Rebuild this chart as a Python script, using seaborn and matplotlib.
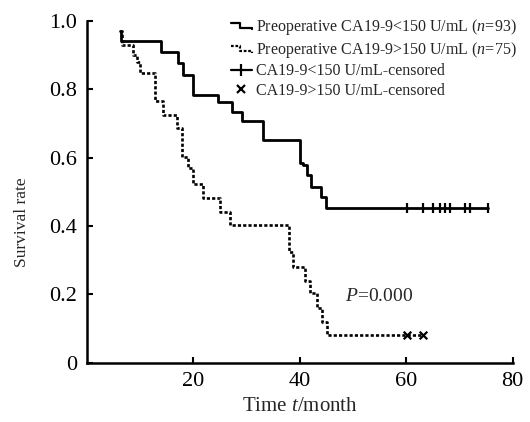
import matplotlib
matplotlib.use("Agg")
import matplotlib.pyplot as plt
import seaborn as sns
import pandas as pd
import numpy as np
from matplotlib.lines import Line2D
from matplotlib.legend_handler import HandlerBase
from matplotlib.ticker import FixedLocator, FuncFormatter

# ---- data ----
low_times = [6.2, 6.5, 13.9, 17.2, 18.0, 19.9, 24.7, 27.2, 29.1, 33.1, 40.0, 40.6, 41.4, 42.2, 44.0, 45.0]
low_surv = [0.970, 0.941, 0.910, 0.876, 0.843, 0.783, 0.764, 0.734, 0.707, 0.651, 0.585, 0.578, 0.549, 0.515, 0.485, 0.452]
low_end = 75.4
low_censor_times = [60.1, 63.2, 65.1, 66.3, 67.3, 68.2, 71.0, 72.0, 75.4]

high_times = [6.2, 6.7, 8.7, 9.4, 10.0, 12.8, 14.4, 16.9, 17.8, 19.1, 20.0, 21.9, 25.0, 26.9, 38.0, 38.8, 41.0, 41.9, 43.2, 44.1, 45.1]
high_surv = [0.970, 0.928, 0.900, 0.881, 0.847, 0.765, 0.725, 0.686, 0.603, 0.569, 0.522, 0.483, 0.442, 0.402, 0.323, 0.281, 0.240, 0.203, 0.160, 0.120, 0.080]
high_end = 63.1
high_censor_times = [60.1, 63.1]

x_ticks = [20, 40, 60, 80]
y_ticks = [0, 0.2, 0.4, 0.6, 0.8, 1.0]
labels = ["Preoperative CA19-9<150 U/mL ($\\it{n}$=93)",
          "Preoperative CA19-9>150 U/mL ($\\it{n}$=75)",
          "CA19-9<150 U/mL-censored",
          "CA19-9>150 U/mL-censored"]
p_text = "$\\it{P}$=0.000"

sns.set_style("ticks")
plt.rcParams["font.family"] = ["Liberation Serif", "DejaVu Serif"]
plt.rcParams["mathtext.fontset"] = "custom"
plt.rcParams["mathtext.rm"] = "Liberation Serif"
plt.rcParams["mathtext.it"] = "Liberation Serif:italic"

def step_frame(times, surv, end):
    t = list(times) + [end]
    s = list(surv) + [surv[-1]]
    return pd.DataFrame({"t": t, "s": s})

def censor_frame(times, surv_list, times_list):
    vals = []
    for c in times:
        idx = max(i for i, tt in enumerate(times_list) if tt <= c)
        vals.append(surv_list[idx])
    return pd.DataFrame({"t": times, "s": vals})

fig = plt.figure(figsize=(5.3, 4.22), dpi=100)
ax = fig.add_axes([0.1638, 0.1408, 0.8035, 0.8097])

low_df = step_frame(low_times, low_surv, low_end)
high_df = step_frame(high_times, high_surv, high_end)

sns.lineplot(data=low_df, x="t", y="s", ax=ax, sort=False, estimator=None,
             drawstyle="steps-post", color="black", lw=2.0)
sns.lineplot(data=high_df, x="t", y="s", ax=ax, sort=False, estimator=None,
             drawstyle="steps-post", color="black", lw=1.9, linestyle=(0, (1.2, 0.8)))

lc = censor_frame(low_censor_times, low_surv, low_times)
hc = censor_frame(high_censor_times, high_surv, high_times)
sns.scatterplot(data=lc, x="t", y="s", ax=ax, marker="|", s=60, color="black", linewidth=1.6)
sns.scatterplot(data=hc, x="t", y="s", ax=ax, marker="x", s=30, color="black", linewidth=1.6)

ax.set_xlim(0, 80)
ax.set_ylim(0, 1.0)
ax.xaxis.set_major_locator(FixedLocator(x_ticks))
ax.yaxis.set_major_locator(FixedLocator(y_ticks))
ax.yaxis.set_major_formatter(FuncFormatter(lambda v, p: "0" if v == 0 else f"{v:.1f}"))
ax.tick_params(direction="in", length=4, width=1.5, labelsize=16, pad=7, colors="black")
for side in ["top", "right"]:
    ax.spines[side].set_visible(False)
for side in ["left", "bottom"]:
    ax.spines[side].set_linewidth(1.8)
    ax.spines[side].set_color("black")

ax.set_xlabel("Time $\\it{t}$/month", fontsize=15, labelpad=4)
ax.set_ylabel("Survival rate", fontsize=12.5)
ax.yaxis.set_label_coords(-0.133, 0.41)

ax.text(48.5, 0.193, p_text, fontsize=14, va="center", ha="left")

class StepHandler(HandlerBase):
    def __init__(self, ls):
        super().__init__()
        self.ls = ls
    def create_artists(self, legend, orig_handle, xdescent, ydescent, width, height, fontsize, trans):
        x0, x1 = -xdescent, -xdescent + width
        xm = x0 + width * 0.45
        yt, yb = -ydescent + height * 0.75, -ydescent + height * 0.3
        l = Line2D([x0, xm, xm, x1, x1], [yt, yt, yb, yb, yb - height * 0.15],
                   color="black", lw=1.6, linestyle=self.ls)
        l.set_transform(trans)
        return [l]

h1 = Line2D([], [], color="black")
h2 = Line2D([], [], color="black")
h3 = Line2D([], [], color="black", lw=1.6, marker="|", markersize=8, markeredgewidth=1.6)
h4 = Line2D([], [], color="black", lw=0, marker="x", markersize=6, markeredgewidth=1.6)

leg = fig.legend([h1, h2, h3, h4], labels, loc="upper left",
                 bbox_to_anchor=(231 / 530, 1 - 17 / 422), frameon=False,
                 fontsize=11.5, handlelength=1.3, handletextpad=0.25,
                 labelspacing=0.2, borderpad=0, borderaxespad=0,
                 handler_map={h1: StepHandler("-"), h2: StepHandler((0, (1.2, 0.8)))})

fig.savefig("out.png", dpi=100)
